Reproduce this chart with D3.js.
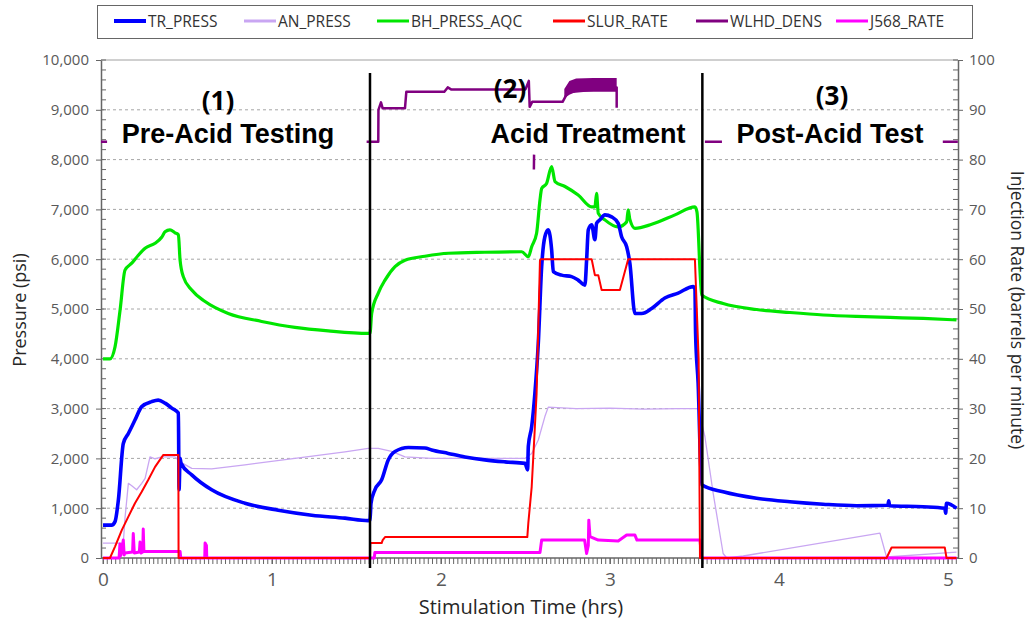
<!DOCTYPE html>
<html>
<head>
<meta charset="utf-8">
<script src="https://cdn.jsdelivr.net/npm/d3@7"></script>
<style>
  body { margin: 0; background: #fff; }
  svg { display: block; font-family: "Open Sans", "Noto Sans", sans-serif; }
</style>
</head>
<body>
<div id="chart"></div>
<script>
// ---- data: [hours, value], null = gap in the record ----
const seriesNames = ["TR_PRESS", "AN_PRESS", "BH_PRESS_AQC", "SLUR_RATE", "WLHD_DENS", "J568_RATE"];
const seriesColors = ["#0000ff", "#c9a6f2", "#00e600", "#ff0000", "#800080", "#ff00ff"];

// pressures (psi, left axis)
const trPress = [[0,660],[0.051,660],[0.071,730],[0.091,1170],[0.120,2300],[0.150,2500],[0.189,2770],[0.229,3040],[0.288,3140],[0.327,3170],[0.367,3110],[0.407,3010],[0.446,2910],[0.450,1370],[0.456,2000],[0.462,1900],[0.525,1670],[0.643,1370],[0.840,1100],[1.037,960],[1.235,860],[1.432,800],[1.570,750],[1.580,760],
  [1.586,1100],[1.609,1370],[1.649,1570],[1.688,1970],[1.728,2140],[1.807,2220],[1.905,2210],[1.945,2170],[2.043,2100],[2.142,2030],[2.260,1970],[2.379,1930],[2.497,1900],[2.513,1770],[2.517,2240],[2.537,2640],[2.556,3310],[2.576,4310],[2.596,5850],[2.615,6450],[2.635,6590],[2.655,6190],[2.665,5750],[2.714,5680],[2.773,5650],[2.812,5580],[2.852,5480],[2.862,5980],[2.872,6590],[2.892,6690],[2.911,6390],[2.921,6720],[2.941,6790],[2.970,6890],[3.010,6850],[3.049,6720],[3.069,6450],[3.099,6250],[3.118,5920],[3.148,4910],[3.188,4910],[3.247,5010],[3.325,5220],[3.404,5320],[3.493,5450],[3.503,5400],[3.507,4510],[3.522,3510],
  [3.543,1470],[3.670,1330],[3.868,1200],[4.065,1130],[4.262,1080],[4.460,1050],[4.645,1060],[4.650,1150],[4.655,1050],[4.854,1030],[4.982,1000],[4.987,900],[4.992,1100],[5.051,1000]];

const anPress = [[0,300],[0.120,300],[0.130,800],[0.150,1500],[0.170,1450],[0.199,1370],[0.229,1500],[0.249,1600],[0.278,2030],[0.308,1990],[0.347,2030],[0.426,2030],[0.456,1930],[0.525,1800],[0.643,1790],[0.840,1870],[1.136,2000],[1.432,2130],[1.570,2200],
  [1.629,2200],[1.708,2140],[1.787,2030],[1.945,2000],[2.260,2000],[2.497,2000],[2.537,2100],[2.576,2370],[2.615,2840],[2.635,3030],[2.800,3000],[3.000,3010],[3.200,2990],[3.400,3000],[3.522,3000],
  [3.562,2440],[3.611,1300],[3.670,90],[3.691,0],[3.789,40],[4.598,500],[4.637,20],[5.051,120]];

const bhPress = [[0,4000],[0.041,4000],[0.071,4240],[0.101,4980],[0.130,5780],[0.170,5920],[0.209,6080],[0.249,6220],[0.308,6320],[0.347,6440],[0.367,6550],[0.396,6590],[0.426,6530],[0.446,6490],[0.456,5980],[0.475,5650],[0.525,5380],[0.604,5150],[0.741,4910],[0.939,4750],[1.136,4630],[1.333,4560],[1.570,4510],[1.580,4510],
  [1.590,4910],[1.629,5320],[1.669,5580],[1.728,5850],[1.787,5980],[1.905,6060],[2.043,6120],[2.260,6140],[2.478,6150],[2.517,6050],[2.537,6250],[2.566,6520],[2.586,7190],[2.596,7420],[2.625,7520],[2.655,7860],[2.675,7560],[2.734,7460],[2.812,7290],[2.892,7050],[2.911,7050],[2.921,7320],[2.931,6920],[2.970,6790],[3.049,6650],[3.099,6750],[3.108,6990],[3.118,6800],[3.148,6620],[3.247,6700],[3.385,6890],[3.503,7050],[3.515,6950],[3.543,5280],
  [3.670,5110],[3.868,4990],[4.065,4930],[4.262,4880],[4.460,4850],[4.657,4830],[4.854,4810],[5.051,4780]];

// rates / density (right axis)
const slurRate = [[0,0],[0.041,0],[0.071,2.3],[0.111,5.6],[0.150,8.3],[0.189,11],[0.229,13.3],[0.268,15.7],[0.308,18.3],[0.357,20.7],[0.446,20.7],[0.447,0],[1.580,0],
  [1.582,3],[1.649,3],[1.655,3.6],[1.669,4.2],[2.511,4.2],[2.517,7],[2.537,14.3],[2.556,26.4],[2.566,33],[2.576,46.4],[2.586,59.8],[2.590,60],[2.892,60],[2.911,56.8],[2.931,56.8],[2.951,53.8],[3.059,53.8],[3.108,60],[3.503,60],[3.525,40],[3.533,0],
  [4.637,0],[4.667,2.1],[4.982,2.1],[4.992,0],[5.051,0]];

const j568Rate = [[0,0],[0.095,0],[0.100,2.8],[0.105,0.5],[0.120,3.6],[0.125,0.6],[0.130,1],[0.175,1.2],[0.179,4.9],[0.185,1],[0.215,1.2],[0.219,3.2],[0.225,1],[0.235,1.2],[0.238,5.8],[0.242,1.3],[0.456,1.3],[0.460,0],[0.602,0],[0.604,3],[0.612,2.5],[0.614,0],[1.580,0],
  [1.605,0],[1.609,1.1],[2.586,1.1],[2.596,3.6],[2.850,3.6],[2.862,0.9],[2.872,2.5],[2.875,7.6],[2.882,4.3],[2.931,3.6],[3.049,3.4],[3.099,4.6],[3.148,4.6],[3.160,3.6],[3.533,3.6],[3.543,0],[5.051,0]];

const wlhdDens = [[-0.012,83.6],[0.024,83.6],null,
  [1.560,83.6],[1.629,83.6],[1.630,90],[1.645,91.5],[1.655,90.3],[1.787,90.3],[1.795,93.6],[2.020,93.6],[2.040,94.5],[2.060,94.1],[2.500,94.1],[2.520,95.8],[2.525,90.6],[2.540,91.6],[2.720,91.6],[2.750,93.5],[3.040,94.5],[3.040,90.4],null,
  [2.550,78],[2.551,81],null,
  [3.562,83.6],[3.663,83.6],null,
  [4.970,83.6],[5.059,83.6]];
// noisy density band near the end of the treatment: [hours, low, high]
const wlhdBand = [[2.730,92.3,94.2],[2.760,93.0,95.8],[2.800,93.6,96.3],[2.900,93.6,96.4],[3.040,93.6,96.4]];

const phaseBreaks = [1.580, 3.547];
const phaseNumbers = ["(1)", "(2)", "(3)"];
const phaseTitles = ["Pre-Acid Testing", "Acid Treatment", "Post-Acid Test"];

const xTicks = [0, 1, 2, 3, 4, 5];
const pressTicks = d3.range(0, 10001, 1000);
const rateTicks = d3.range(0, 101, 10);

// ---- layout ----
const W = 1030, H = 628;
const L = 101, R = 958, T = 60, B = 558;

const svg = d3.select("#chart").append("svg").attr("width", W).attr("height", H);
svg.append("rect").attr("width", W).attr("height", H).attr("fill", "#fff");

const x = d3.scaleLinear().domain([-0.012, 5.06]).range([L, R]);
const yP = d3.scaleLinear().domain([0, 10000]).range([B, T]);
const yR = d3.scaleLinear().domain([0, 100]).range([B, T]);

// grid
svg.append("g").selectAll("line").data(pressTicks.filter(v => v > 0 && v < 10000)).enter().append("line")
  .attr("x1", L).attr("x2", R).attr("y1", d => yP(d)).attr("y2", d => yP(d))
  .attr("stroke", "#a6a6a6").attr("stroke-width", 1).attr("stroke-dasharray", "3,3");
svg.append("line").attr("x1", L).attr("x2", R).attr("y1", T).attr("y2", T)
  .attr("stroke", "#a0a0a0").attr("stroke-width", 1);

// minor ticks
const axisCol = "#666";
svg.append("g").selectAll("line").data(d3.range(0, 10001, 200)).enter().append("line")
  .attr("x1", L).attr("x2", L + 5).attr("y1", d => yP(d)).attr("y2", d => yP(d))
  .attr("stroke", axisCol);
svg.append("g").selectAll("line").data(d3.range(0, 101, 2)).enter().append("line")
  .attr("x1", R - 5).attr("x2", R).attr("y1", d => yR(d)).attr("y2", d => yR(d))
  .attr("stroke", axisCol);
svg.append("g").selectAll("line").data(d3.range(0, 5.06, 0.025)).enter().append("line")
  .attr("x1", d => x(d)).attr("x2", d => x(d)).attr("y1", B).attr("y2", B + 6)
  .attr("stroke", axisCol);

// axes
function styleAxis(g, size) {
  g.select(".domain").attr("stroke", axisCol).attr("stroke-width", 1.5);
  g.selectAll(".tick line").attr("stroke", axisCol);
  g.selectAll(".tick text").attr("fill", "#595959").style("font-size", size + "px")
    .style("font-family", "'Open Sans', sans-serif");
}
svg.append("g").attr("transform", `translate(${L},0)`)
  .call(d3.axisLeft(yP).tickValues(pressTicks).tickSizeInner(5).tickSizeOuter(0).tickPadding(7).tickFormat(d3.format(",")))
  .call(g => styleAxis(g, 15));
svg.append("g").attr("transform", `translate(${R},0)`)
  .call(d3.axisRight(yR).tickValues(rateTicks).tickSizeInner(5).tickSizeOuter(0).tickPadding(6))
  .call(g => styleAxis(g, 15));
svg.append("g").attr("transform", `translate(0,${B})`)
  .call(d3.axisBottom(x).tickValues(xTicks).tickSizeInner(6).tickSizeOuter(0).tickPadding(9).tickFormat(d3.format("d")))
  .call(g => styleAxis(g, 19))
  .call(g => g.select(".domain").attr("d", `M${L},0H${R}`));

// axis titles
svg.append("text").attr("transform", "translate(26,310) rotate(-90)").attr("text-anchor", "middle")
  .style("font-size", "18px").attr("fill", "#262626").text("Pressure (psi)");
svg.append("text").attr("transform", "translate(1011,310) rotate(90)").attr("text-anchor", "middle")
  .style("font-size", "17.5px").attr("fill", "#262626").text("Injection Rate (barrels per minute)");
svg.append("text").attr("x", 521).attr("y", 614).attr("text-anchor", "middle")
  .style("font-size", "20px").attr("fill", "#262626").text("Stimulation Time (hrs)");

// series
const lineP = d3.line().defined(d => d !== null).x(d => x(d[0])).y(d => yP(d[1])).curve(d3.curveMonotoneX);
const lineLin = d3.line().defined(d => d !== null).x(d => x(d[0])).y(d => yP(d[1]));
const lineR = d3.line().defined(d => d !== null).x(d => x(d[0])).y(d => yR(d[1]));
const plot = svg.append("g");
function drawLine(data, gen, color, width) {
  plot.append("path").datum(data).attr("d", gen).attr("fill", "none")
    .attr("stroke", color).attr("stroke-width", width).attr("stroke-linejoin", "round");
}
plot.append("path").datum(wlhdBand)
  .attr("d", d3.area().x(d => x(d[0])).y0(d => yR(d[1])).y1(d => yR(d[2])))
  .attr("fill", seriesColors[4]);
drawLine(wlhdDens, lineR, seriesColors[4], 2.5);
drawLine(anPress, lineLin, seriesColors[1], 1.3);
drawLine(bhPress, lineP, seriesColors[2], 3.2);
drawLine(j568Rate, lineR, seriesColors[5], 3);
drawLine(trPress, lineP, seriesColors[0], 3.6);
drawLine(slurRate, lineR, seriesColors[3], 2);

// phase separators
svg.append("g").selectAll("line").data(phaseBreaks).enter().append("line")
  .attr("x1", d => x(d)).attr("x2", d => x(d)).attr("y1", 73).attr("y2", 568)
  .attr("stroke", "#000").attr("stroke-width", 2.5);

// phase annotations
const numPos = [[218, 110], [510, 98], [832, 105]];
const titlePos = [228, 588, 830];
svg.append("g").selectAll("text").data(phaseNumbers).enter().append("text")
  .attr("x", (d, i) => numPos[i][0]).attr("y", (d, i) => numPos[i][1]).attr("text-anchor", "middle")
  .style("font-size", "26px").style("font-weight", "bold").attr("fill", "#000").text(d => d);
svg.append("g").selectAll("text").data(phaseTitles).enter().append("text")
  .attr("x", (d, i) => titlePos[i]).attr("y", 143).attr("text-anchor", "middle")
  .style("font-family", "'Liberation Sans', Arial, sans-serif")
  .style("font-size", "27px").style("font-weight", "bold").attr("fill", "#000").text(d => d);

// legend
const leg = svg.append("g");
leg.append("rect").attr("x", 97.5).attr("y", 5.5).attr("width", 875).attr("height", 33)
  .attr("fill", "#fff").attr("stroke", "#666");
const legX = [114, 244, 377, 553, 696, 836];
seriesNames.forEach((name, i) => {
  leg.append("line").attr("x1", legX[i]).attr("x2", legX[i] + 32).attr("y1", 21).attr("y2", 21)
    .attr("stroke", seriesColors[i]).attr("stroke-width", i === 0 ? 4 : 3);
  leg.append("text").attr("x", legX[i] + 34).attr("y", 26.5)
    .style("font-size", "15.5px").attr("fill", "#333").text(name);
});
</script>
</body>
</html>
